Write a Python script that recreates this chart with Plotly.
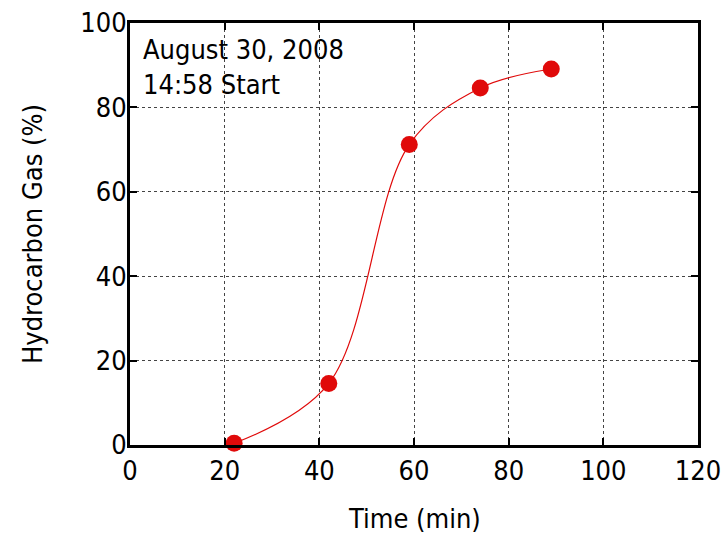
import plotly.graph_objects as go

time_min = [22, 42, 59, 74, 89]
gas_pct = [0.4, 14.6, 71.2, 84.6, 89.1]
x_ticks = [0, 20, 40, 60, 80, 100, 120]
y_ticks = [0, 20, 40, 60, 80, 100]

red = "#e00a0a"
font = dict(family="DejaVu Sans Condensed, DejaVu Sans", size=27, color="black")

fig = go.Figure()
fig.add_trace(go.Scatter(
    x=time_min, y=gas_pct, mode="lines",
    line=dict(color=red, width=1.2, shape="spline", smoothing=1.0),
    hoverinfo="skip", showlegend=False, cliponaxis=False))
fig.add_trace(go.Scatter(
    x=time_min, y=gas_pct, mode="markers",
    marker=dict(color=red, size=17),
    showlegend=False, cliponaxis=False))

axis_common = dict(
    showline=True, linecolor="black", linewidth=3, mirror="ticks",
    ticks="inside", ticklen=7, tickwidth=2, tickcolor="black",
    showgrid=True, gridcolor="#444444", griddash="dot", gridwidth=1,
    zeroline=False, tickfont=font, automargin=False,
)
fig.update_xaxes(range=[0, 120], tickvals=x_ticks, **axis_common)
fig.update_yaxes(range=[0, 100], tickvals=y_ticks, ticklabelstandoff=-5,
                 ticklabeloverflow="allow", **axis_common)

# axis titles
fig.add_annotation(
    x=0.5, y=0, xref="paper", yref="paper", xanchor="center", yanchor="middle",
    yshift=-73, showarrow=False, text="Time (min)", font=font)
fig.add_annotation(
    x=0, y=0.5, xref="paper", yref="paper", xanchor="center", yanchor="middle",
    xshift=-98, textangle=-90, showarrow=False, text="Hydrocarbon Gas (%)", font=font)

fig.add_annotation(
    x=0, y=1, xref="paper", yref="paper", xanchor="left", yanchor="top",
    xshift=11, yshift=-9, align="left", showarrow=False,
    text="August 30, 2008<br>14:58 Start", font=font)

fig.update_layout(
    width=726, height=535, plot_bgcolor="white", paper_bgcolor="white",
    margin=dict(l=130, r=28, t=23, b=90, autoexpand=False), font=font)

fig.write_html(
    "out.html",
    config={"displayModeBar": False},
    post_script="document.body.style.margin='0';document.body.style.overflow='hidden';")
